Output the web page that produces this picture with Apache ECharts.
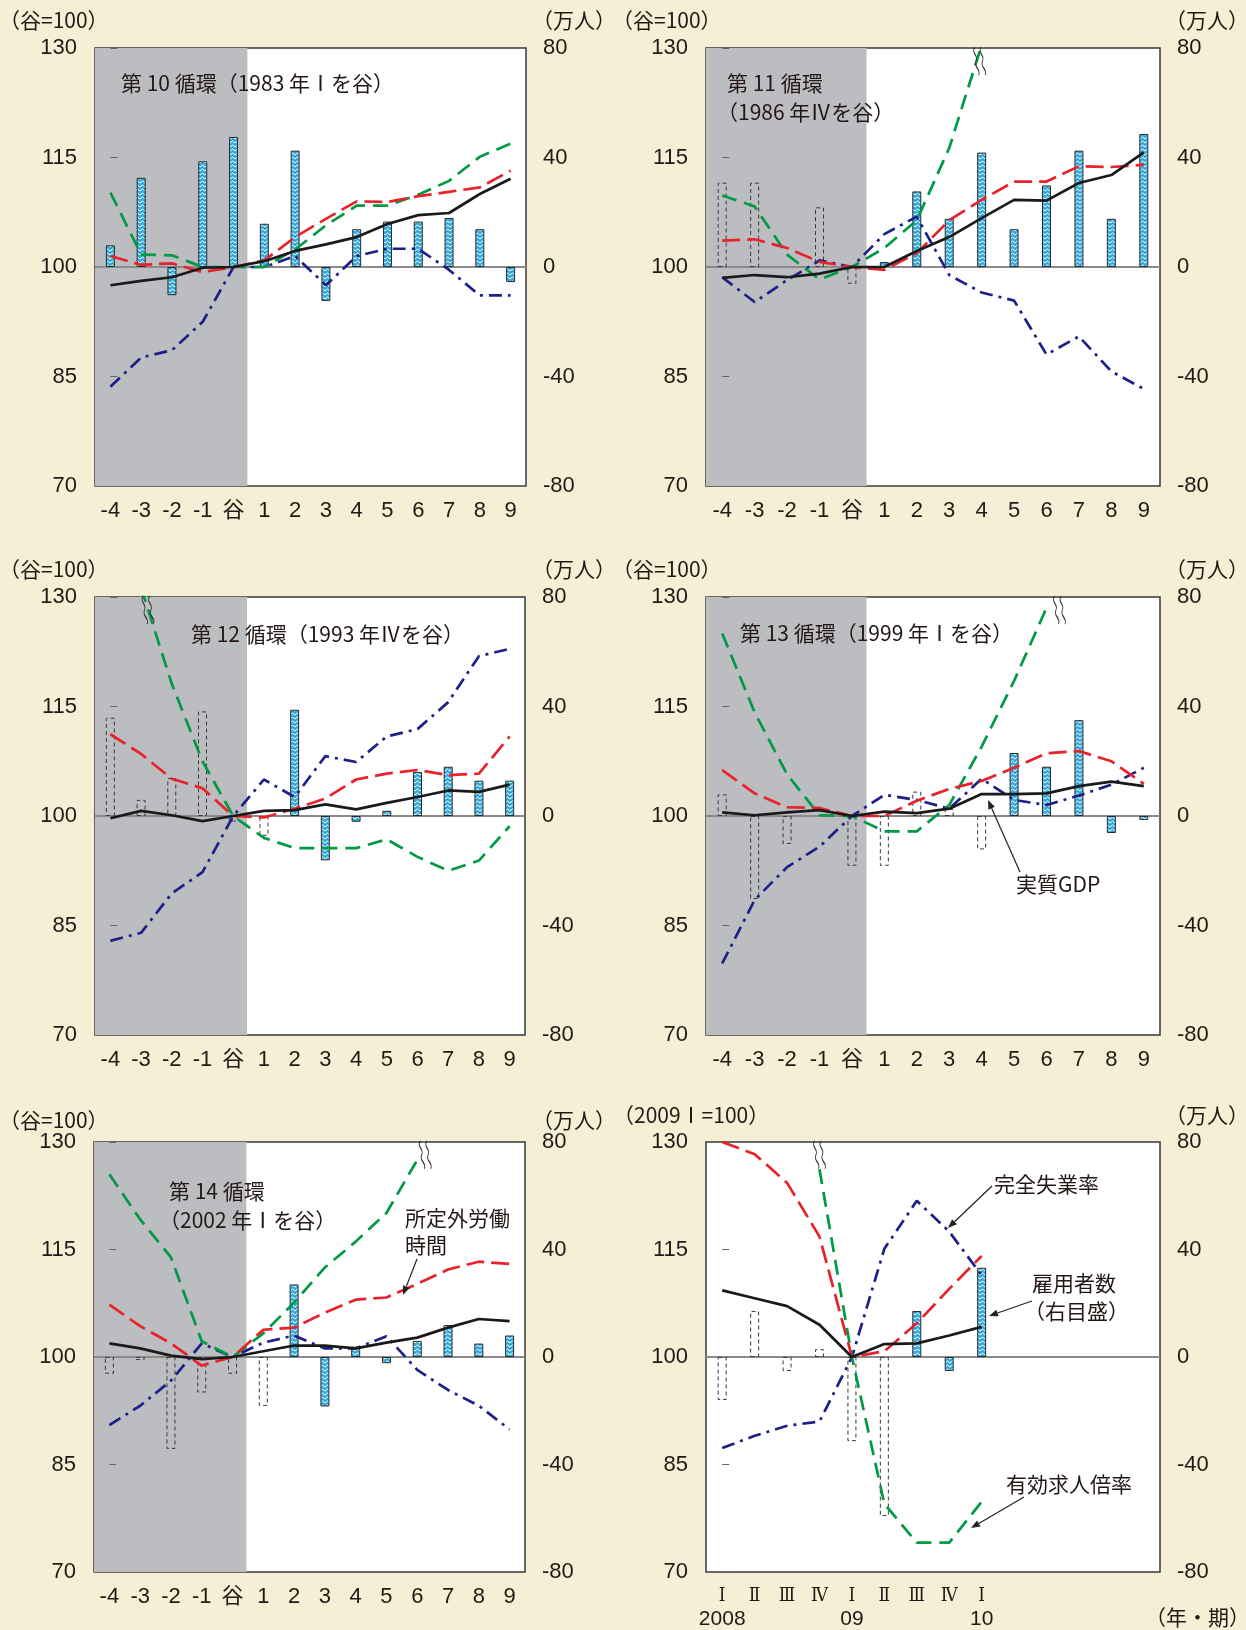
<!DOCTYPE html>
<html>
<head>
<meta charset="utf-8">
<script src="https://cdn.jsdelivr.net/npm/echarts@6/dist/echarts.min.js"></script>
<style>
  html, body { margin: 0; padding: 0; background: #F5EFD5; }
  #chart { width: 1246px; height: 1630px; }
</style>
</head>
<body>
<div id="chart"></div>
<script>
// categories
var cycleCats = ['-4', '-3', '-2', '-1', '谷', '1', '2', '3', '4', '5', '6', '7', '8', '9'];
var quarterMarks = ['Ⅰ', 'Ⅱ', 'Ⅲ', 'Ⅳ', 'Ⅰ', 'Ⅱ', 'Ⅲ', 'Ⅳ', 'Ⅰ', '', '', '', '', ''];
var quarterYears = ['2008', '', '', '', '09', '', '', '', '10', '', '', '', '', ''];

// 第10循環 (1983 I)
var gdp10 = [97.5, 98.1, 98.6, 99.9, 100, 100.8, 102.2, 103.1, 104.1, 105.9, 107.1, 107.4, 110.0, 112.1];
var ot10 = [101.5, 100.3, 100.5, 99.3, 100, 100.9, 104.1, 106.6, 109.0, 108.9, 109.7, 110.3, 110.9, 113.2];
var jobs10 = [110.2, 101.7, 101.6, 100, 100, 100, 102.4, 105.7, 108.4, 108.4, 109.9, 111.8, 115.1, 116.9];
var unemp10 = [83.6, 87.6, 88.6, 92.5, 100, 100, 101.5, 97.5, 101.5, 102.5, 102.5, 99.6, 96.1, 96.1];
var empFill10 = [7.9, 32.6, -10.3, 38.6, 47.5, 15.8, 42.5, -12.4, 13.8, 16.6, 16.6, 17.9, 13.8, -5.5];
var empDash10 = [];

// 第11循環 (1986 IV)
var gdp11 = [98.5, 98.9, 98.6, 99.1, 100, 100, 102.2, 104.1, 106.7, 109.2, 109.1, 111.5, 112.6, 115.7];
var ot11 = [103.6, 103.8, 102.6, 100.7, 100, 99.6, 101.9, 106.4, 109.2, 111.7, 111.7, 113.8, 113.7, 114.0];
var jobs11 = [109.8, 108.3, 101.7, 98.3, 100, 102.6, 106.4, 116.3, 130.4, null, null, null, null, null];
var unemp11 = [98.6, 95.2, 98.2, 100.9, 100, 104.5, 106.9, 98.9, 96.5, 95.4, 88.0, 90.5, 85.7, 83.3];
var empFill11 = [null, null, null, null, null, 1.8, 27.6, 17.6, 41.8, 13.8, 29.8, 42.5, 17.6, 48.6];
var empDash11 = [30.8, 30.8, null, 21.8, -6.1, null, null, null, null, null, null, null, null, null];

// 第12循環 (1993 IV)
var gdp12 = [99.7, 100.7, 100.1, 99.3, 100, 100.7, 100.8, 101.6, 100.9, 101.8, 102.6, 103.5, 103.3, 104.3];
var ot12 = [111.2, 108.5, 105.1, 103.8, 100, 99.8, 101.0, 102.4, 105.0, 105.8, 106.3, 105.6, 105.8, 110.9];
var jobs12 = [null, 131.3, 118.1, 107.5, 100, 97.0, 95.6, 95.6, 95.6, 96.8, 94.4, 92.5, 93.9, 98.6];
var unemp12 = [82.9, 84.0, 89.4, 92.3, 100, 105.0, 102.6, 108.2, 107.4, 110.9, 111.9, 115.6, 121.9, 122.9];
var empFill12 = [null, null, null, null, null, null, 38.8, -16.2, -2.1, 1.9, 16.1, 18.0, 12.9, 12.9];
var empDash12 = [35.9, 5.9, 13.9, 38.2, -2.0, -7.2, null, null, null, null, null, null, null, null];

// 第13循環 (1999 I)
var gdp13 = [100.5, 100.1, 100.5, 100.8, 100, 100.6, 100.4, 101.0, 103.0, 103.0, 103.1, 104.1, 104.7, 104.1];
var ot13 = [106.3, 103.1, 101.2, 101.1, 100, 100, 102.1, 103.7, 104.8, 106.6, 108.6, 108.9, 107.5, 104.4];
var jobs13 = [125.0, 114.2, 105.7, 100.1, 100, 97.9, 97.9, 101.5, 109.5, 118.5, 128.5, null, null, null];
var unemp13 = [79.8, 88.5, 93.0, 95.8, 100, 102.9, 102.2, 101.0, 105.1, 102.2, 101.5, 102.8, 104.3, 106.6];
var empFill13 = [null, null, null, null, null, null, null, null, null, 23.0, 18.0, 35.0, -6.2, -1.4];
var empDash13 = [7.9, -30.3, -10.2, null, -18.2, -18.2, 8.9, 2.6, -12.2, null, null, null, null, null];

// 第14循環 (2002 I)
var gdp14 = [101.9, 101.2, 100.2, 99.7, 100, 100.8, 101.6, 101.6, 101.2, 102.0, 102.7, 104.1, 105.3, 105.0];
var ot14 = [107.3, 104.3, 101.9, 98.8, 100, 103.8, 104.1, 106.2, 108.0, 108.3, 110.2, 112.2, 113.3, 113.0];
var jobs14 = [125.5, 119.2, 113.9, 102.2, 100, 103.3, 107.6, 112.5, 116.1, 120.1, 127.5, null, null, null];
var unemp14 = [90.5, 93.2, 96.7, 101.9, 100, 102.0, 103.0, 101.2, 101.2, 102.9, 98.2, 95.4, 93.2, 89.9];
var empFill14 = [null, null, null, null, null, null, 27.0, -18.4, 3.8, -2.3, 6.0, 11.9, 5.0, 8.0];
var empDash14 = [-6.2, -1.1, -34.2, -13.2, -6.2, -18.2, null, null, null, null, null, null, null, null];

// 2008 I - 2010 I
var gdp08 = [109.3, 108.2, 107.1, 104.5, 100, 101.8, 101.9, 103.0, 104.2];
var ot08 = [130, 128.3, 124.3, 116.8, 100, 100.8, 104.7, 109.5, 114.1];
var jobs08 = [null, null, null, 126.2, 100, 79.5, 74.1, 74.1, 79.8];
var unemp08 = [87.3, 89.0, 90.4, 91.0, 100, 115.1, 121.8, 117.5, 111.4];
var empFill08 = [null, null, null, null, null, null, 17.1, -5.2, 33.2];
var empDash08 = [-16.0, 17.1, -5.2, 2.9, -31.3, -59.2, null, null, null];

var panels = [
  { gdp: gdp10, ot: ot10, jobs: jobs10, unemp: unemp10, fill: empFill10, dash: empDash10, shade: true, quarters: false, brk: null },
  { gdp: gdp11, ot: ot11, jobs: jobs11, unemp: unemp11, fill: empFill11, dash: empDash11, shade: true, quarters: false, brk: { at: 8, dx: -2 } },
  { gdp: gdp12, ot: ot12, jobs: jobs12, unemp: unemp12, fill: empFill12, dash: empDash12, shade: true, quarters: false, brk: { at: 1, dx: 7 } },
  { gdp: gdp13, ot: ot13, jobs: jobs13, unemp: unemp13, fill: empFill13, dash: empDash13, shade: true, quarters: false, brk: { at: 10, dx: 13 } },
  { gdp: gdp14, ot: ot14, jobs: jobs14, unemp: unemp14, fill: empFill14, dash: empDash14, shade: true, quarters: false, brk: { at: 10, dx: 8 } },
  { gdp: gdp08, ot: ot08, jobs: jobs08, unemp: unemp08, fill: empFill08, dash: empDash08, shade: false, quarters: true, brk: { at: 3, dx: 0 } }
];

var layout = [
  { left: 95, top: 48, width: 431, height: 438 },
  { left: 706, top: 48, width: 454, height: 438 },
  { left: 95, top: 597, width: 430, height: 438 },
  { left: 706, top: 597, width: 454, height: 438 },
  { left: 94, top: 1142, width: 431, height: 430 },
  { left: 706, top: 1142, width: 454, height: 430 }
];

var CJK = '"Noto Sans CJK JP", sans-serif';
var NUM = '"Liberation Sans", "Noto Sans CJK JP", sans-serif';
var ROMAN = '"DejaVu Serif Condensed", "DejaVu Serif", "Noto Sans CJK JP", serif';
var INK = '#231815';

// cyan bar fill with white zigzag
function makePattern() {
  var c = document.createElement('canvas');
  c.width = 5; c.height = 4;
  var g = c.getContext('2d');
  g.fillStyle = '#2FA9DA';
  g.fillRect(0, 0, 5, 4);
  g.strokeStyle = '#ffffff';
  g.lineWidth = 1;
  g.beginPath();
  g.moveTo(0, 3); g.lineTo(2.5, 1); g.lineTo(5, 3);
  g.stroke();
  return c;
}
var barPattern = { image: makePattern(), repeat: 'repeat' };

var squiggle = 'path://M3,0 C0,6 6,8 4,14 C2,20 8,22 6,28 M8,0 C5,6 11,8 9,14 C7,20 13,22 11,28';

var grids = [], xAxes = [], yAxes = [], series = [];

panels.forEach(function (p, i) {
  grids.push(Object.assign({ show: true, backgroundColor: '#ffffff', borderColor: '#3a3a3a', borderWidth: 1.5 }, layout[i]));

  var labelOpt = {
    interval: 0, margin: 14, fontSize: 22, color: INK, fontFamily: NUM
  };
  if (p.quarters) {
    labelOpt = {
      interval: 0, margin: 12,
      formatter: function (v, idx) {
        if (!quarterMarks[idx]) return '';
        return '{q|' + quarterMarks[idx] + '}' + (quarterYears[idx] ? '\n{y|' + quarterYears[idx] + '}' : '');
      },
      rich: {
        q: { fontFamily: ROMAN, fontSize: 19, lineHeight: 24, color: INK },
        y: { fontFamily: NUM, fontSize: 21, lineHeight: 23, color: INK }
      }
    };
  }
  xAxes.push({
    gridIndex: i, type: 'category', data: p.quarters ? quarterMarks : cycleCats, boundaryGap: true,
    axisLine: { show: false }, axisTick: { show: false }, axisLabel: labelOpt
  });
  xAxes.push({ gridIndex: i, type: 'value', min: -0.5, max: 13.5, show: false });

  yAxes.push({
    gridIndex: i, type: 'value', position: 'left', min: 70, max: 130, interval: 15,
    axisLine: { show: false }, splitLine: { show: false },
    axisTick: { show: true, inside: true, length: 7, lineStyle: { color: '#666', width: 1 } },
    axisLabel: { margin: 18, fontSize: 22, color: INK, fontFamily: NUM }
  });
  yAxes.push({
    gridIndex: i, type: 'value', position: 'right', min: -80, max: 80, interval: 40,
    axisLine: { show: false }, splitLine: { show: false }, axisTick: { show: false },
    axisLabel: { margin: 17, fontSize: 22, color: INK, fontFamily: NUM }
  });

  var xc = 2 * i, xv = 2 * i + 1, yl = 2 * i, yr = 2 * i + 1;

  // shaded contraction phase + zero line
  series.push({
    type: 'line', xAxisIndex: xv, yAxisIndex: yl, data: [], silent: true,
    markArea: {
      silent: true, z: 0, itemStyle: { color: '#BCBDC1' },
      data: p.shade ? [[{ xAxis: -0.5 }, { xAxis: 4.45 }]] : []
    },
    markLine: {
      silent: true, z: 1, symbol: 'none', label: { show: false },
      lineStyle: { color: '#8a8a8a', width: 2, type: 'solid' },
      data: [{ yAxis: 100 }]
    }
  });

  // 雇用者数 (right scale)
  series.push({
    type: 'bar', xAxisIndex: xc, yAxisIndex: yr, data: p.fill, barWidth: 9, barGap: '-100%', z: 2,
    itemStyle: { color: barPattern, borderColor: '#2a2a2a', borderWidth: 1 }
  });
  series.push({
    type: 'bar', xAxisIndex: xc, yAxisIndex: yr, data: p.dash, barWidth: 9, barGap: '-100%', z: 2,
    itemStyle: { color: 'rgba(0,0,0,0)', borderColor: '#3a3a3a', borderWidth: 1, borderType: [4, 3] }
  });

  // 完全失業率
  series.push({
    type: 'line', xAxisIndex: xc, yAxisIndex: yl, data: p.unemp, symbol: 'none', z: 3,
    lineStyle: { color: '#1D2088', width: 2.7, type: [13, 6, 3, 6] }
  });
  // 有効求人倍率
  var jobsSeries = {
    type: 'line', xAxisIndex: xc, yAxisIndex: yl, data: p.jobs, symbol: 'none', z: 3,
    lineStyle: { color: '#009944', width: 2.7, type: [15, 8] }
  };
  if (p.brk) {
    jobsSeries.markPoint = {
      silent: true, z: 6, symbol: squiggle, symbolSize: [12, 28], symbolOffset: [p.brk.dx, 0],
      label: { show: false },
      itemStyle: { color: 'rgba(0,0,0,0)', borderColor: '#333', borderWidth: 1.3 },
      data: [{ coord: [p.brk.at, 128.2] }]
    };
  }
  series.push(jobsSeries);
  // 所定外労働時間
  series.push({
    type: 'line', xAxisIndex: xc, yAxisIndex: yl, data: p.ot, symbol: 'none', z: 3,
    lineStyle: { color: '#E8212B', width: 2.7, type: [18, 7] }
  });
  // 実質GDP
  series.push({
    type: 'line', xAxisIndex: xc, yAxisIndex: yl, data: p.gdp, symbol: 'none', z: 4,
    lineStyle: { color: '#1a1a1a', width: 2.7, type: 'solid' }
  });
});

// free text: [text, x, y, size]
var texts = [
  ['（谷=100）', -1, 20, 21], ['（万人）', 532, 20, 21],
  ['（谷=100）', 612, 20, 21], ['（万人）', 1165, 20, 21],
  ['（谷=100）', -1, 569, 21], ['（万人）', 532, 569, 21],
  ['（谷=100）', 612, 569, 21], ['（万人）', 1165, 569, 21],
  ['（谷=100）', -1, 1120, 21], ['（万人）', 532, 1120, 21],
  ['（2009Ⅰ=100）', 613, 1115, 21], ['（万人）', 1165, 1115, 21],
  ['第 10 循環（1983 年Ⅰを谷）', 121, 83, 21],
  ['第 11 循環', 727, 83, 21], ['（1986 年Ⅳを谷）', 717, 112, 21],
  ['第 12 循環（1993 年Ⅳを谷）', 191, 634, 21],
  ['第 13 循環（1999 年Ⅰを谷）', 740, 633, 21],
  ['第 14 循環', 169, 1191, 21], ['（2002 年Ⅰを谷）', 159, 1220, 21],
  ['実質GDP', 1016, 884, 21],
  ['所定外労働', 405, 1218, 21], ['時間', 405, 1245, 21],
  ['完全失業率', 994, 1184, 21],
  ['雇用者数', 1032, 1283, 21], ['（右目盛）', 1024, 1311, 21],
  ['有効求人倍率', 1006, 1484, 21],
  ['（年・期）', 1145, 1617, 21]
];
var arrows = [
  [1020, 872, 988, 800],
  [417, 1259, 403, 1295],
  [992, 1186, 948, 1228],
  [1032, 1301, 989, 1316],
  [1024, 1497, 971, 1528]
];

var graphics = texts.map(function (t) {
  return {
    type: 'text', x: t[1], y: t[2], z: 100, silent: true,
    style: { text: t[0], font: t[3] + 'px ' + CJK, fill: INK, align: 'left', verticalAlign: 'middle' }
  };
});
arrows.forEach(function (a) {
  var dx = a[2] - a[0], dy = a[3] - a[1];
  var len = Math.sqrt(dx * dx + dy * dy);
  var ux = dx / len, uy = dy / len, hl = 9, hw = 3.5;
  var bx = a[2] - ux * hl, by = a[3] - uy * hl;
  graphics.push({
    type: 'line', z: 100, silent: true,
    shape: { x1: a[0], y1: a[1], x2: bx, y2: by },
    style: { stroke: '#222', lineWidth: 1.2 }
  });
  graphics.push({
    type: 'polygon', z: 100, silent: true,
    shape: { points: [[a[2], a[3]], [bx - uy * hw, by + ux * hw], [bx + uy * hw, by - ux * hw]] },
    style: { fill: '#222' }
  });
});

var chart = echarts.init(document.getElementById('chart'));
chart.setOption({
  backgroundColor: '#F5EFD5',
  animation: false,
  grid: grids,
  xAxis: xAxes,
  yAxis: yAxes,
  series: series,
  graphic: graphics
});
</script>
</body>
</html>
